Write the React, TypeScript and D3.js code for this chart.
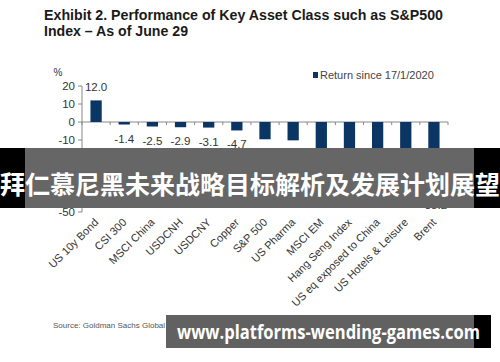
import React, { useRef, useEffect } from 'react';
import * as d3 from 'd3';

const categories = [
  'US 10y Bond', 'CSI 300', 'MSCI China', 'USDCNH', 'USDCNY', 'Copper', 'S&P 500',
  'US Pharma', 'MSCI EM', 'Hang Seng Index', 'US eq exposed to China', 'US Hotels & Leisure', 'Brent'
];
const returns = [12.0, -1.4, -2.5, -2.9, -3.1, -4.7, -9.6, -10.2, -15.9, -16.7, -26.8, -29.6, -38.2];
const yTicks = [20, 10, 0, -10, -20, -30, -40, -50];
const seriesName = 'Return since 17/1/2020';
const titleLines = ['Exhibit 2. Performance of Key Asset Class such as S&P500', 'Index \u2013 As of June 29'];
const sourceText = 'Source: Goldman Sachs Global Investment Research, Investment Strategy';
const bannerText = '拜仁慕尼黑未来战略目标解析及发展计划展望';
const footerText = 'www.platforms-wending-games.com';

const width = 500;
const height = 362;

/**
 * Bar chart of asset class returns, with the overlay banners of the source picture
 */
const App: React.FC = () => {
  const svgRef = useRef<SVGSVGElement>(null);

  useEffect(() => {
    const svg = d3.select(svgRef.current);
    svg.selectAll('*').remove();

    const font = '"Liberation Sans", Arial, sans-serif';
    const barColor = '#0b3562';
    const textColor = '#333';

    // plot area
    const left = 82;
    const right = 448;
    const xScale = d3.scaleBand<string>()
      .domain(categories)
      .range([left, right])
      .paddingInner(0.6)
      .paddingOuter(0.3);

    const yScale = d3.scaleLinear()
      .domain([-50, 20])
      .range([212, 86]);

    svg.append('rect')
      .attr('width', width)
      .attr('height', height)
      .attr('fill', '#fff');

    // title
    svg.append('g')
      .selectAll('text')
      .data(titleLines)
      .enter()
      .append('text')
      .attr('x', 44)
      .attr('y', (d, i) => 19.5 + i * 16.5)
      .attr('textLength', (d, i) => (i === 0 ? 399 : 144))
      .attr('lengthAdjust', 'spacingAndGlyphs')
      .style('font-family', font)
      .style('font-size', '14px')
      .style('font-weight', 'bold')
      .style('fill', '#1a1a1a')
      .text(d => d);

    // y axis
    const yAxis = svg.append('g');
    yAxis.append('line')
      .attr('x1', left).attr('x2', left)
      .attr('y1', yScale(20)).attr('y2', yScale(-50))
      .attr('stroke', '#888');
    yAxis.selectAll('.ytick')
      .data(yTicks)
      .enter()
      .append('line')
      .attr('class', 'ytick')
      .attr('x1', left - 4).attr('x2', left)
      .attr('y1', d => yScale(d)).attr('y2', d => yScale(d))
      .attr('stroke', '#888');
    yAxis.selectAll('.ylabel')
      .data(yTicks)
      .enter()
      .append('text')
      .attr('class', 'ylabel')
      .attr('x', left - 7)
      .attr('y', d => yScale(d))
      .attr('dy', '0.35em')
      .attr('text-anchor', 'end')
      .style('font-family', font)
      .style('font-size', '11.5px')
      .style('fill', textColor)
      .text(d => d);
    svg.append('text')
      .attr('x', 58)
      .attr('y', 76)
      .attr('text-anchor', 'middle')
      .style('font-family', font)
      .style('font-size', '10px')
      .style('fill', textColor)
      .text('%');

    // x axis at zero
    const zeroY = yScale(0);
    svg.append('line')
      .attr('x1', left).attr('x2', right)
      .attr('y1', zeroY).attr('y2', zeroY)
      .attr('stroke', '#888');
    svg.selectAll('.xtick')
      .data(d3.range(categories.length + 1))
      .enter()
      .append('line')
      .attr('class', 'xtick')
      .attr('x1', i => left + i * (right - left) / categories.length)
      .attr('x2', i => left + i * (right - left) / categories.length)
      .attr('y1', zeroY).attr('y2', zeroY + 3)
      .attr('stroke', '#888');

    // bars
    svg.selectAll('.bar')
      .data(returns)
      .enter()
      .append('rect')
      .attr('class', 'bar')
      .attr('x', (d, i) => xScale(categories[i]) as number)
      .attr('width', xScale.bandwidth())
      .attr('y', d => yScale(Math.max(0, d)))
      .attr('height', d => Math.abs(yScale(d) - yScale(0)))
      .attr('fill', barColor);

    // value labels
    svg.selectAll('.value')
      .data(returns)
      .enter()
      .append('text')
      .attr('class', 'value')
      .attr('x', (d, i) => (xScale(categories[i]) as number) + xScale.bandwidth() / 2)
      .attr('y', d => (d >= 0 ? yScale(d) - 13 : yScale(d) + 14))
      .attr('dy', '0.35em')
      .attr('text-anchor', 'middle')
      .style('font-family', font)
      .style('font-size', '11.5px')
      .style('fill', textColor)
      .text(d => d.toFixed(1));

    // category labels
    svg.selectAll('.xlabel')
      .data(categories)
      .enter()
      .append('text')
      .attr('class', 'xlabel')
      .attr('transform', d => `translate(${(xScale(d) as number) + xScale.bandwidth() / 2 + 3},${223}) rotate(-45)`)
      .attr('text-anchor', 'end')
      .style('font-family', font)
      .style('font-size', '11px')
      .style('fill', textColor)
      .text(d => d);

    // legend
    svg.append('rect')
      .attr('x', 313).attr('y', 72)
      .attr('width', 5).attr('height', 6)
      .attr('fill', barColor);
    svg.append('text')
      .attr('x', 320)
      .attr('y', 78.5)
      .style('font-family', font)
      .style('font-size', '11px')
      .style('fill', '#444')
      .text(seriesName);

    // source line
    svg.append('text')
      .attr('x', 53)
      .attr('y', 328)
      .style('font-family', font)
      .style('font-size', '8px')
      .style('fill', '#555')
      .text(sourceText);
    svg.append('text')
      .attr('x', 400)
      .attr('y', 328)
      .style('font-family', font)
      .style('font-size', '9px')
      .style('fill', '#666')
      .text('Goldman Sachs');

    // middle banner
    svg.append('rect')
      .attr('x', 0).attr('y', 148)
      .attr('width', width).attr('height', 60)
      .attr('fill', '#000');
    svg.append('rect')
      .attr('x', 25).attr('y', 148)
      .attr('width', 449).attr('height', 60)
      .attr('fill', '#fff');
    svg.append('rect')
      .attr('x', 25).attr('y', 148)
      .attr('width', 449).attr('height', 60)
      .attr('fill', 'rgba(0,0,0,0.6)');
    svg.append('text')
      .attr('x', 250)
      .attr('y', 194)
      .attr('text-anchor', 'middle')
      .style('font-family', '"Noto Sans CJK SC", sans-serif')
      .style('font-size', '25px')
      .style('font-weight', 'bold')
      .style('fill', '#fff')
      .text(bannerText);

    // footer banner
    svg.append('rect')
      .attr('x', 166).attr('y', 315)
      .attr('width', 325).attr('height', 33)
      .attr('fill', '#000');
    svg.append('rect')
      .attr('x', 166).attr('y', 315)
      .attr('width', 308).attr('height', 33)
      .attr('fill', 'rgba(100,100,100,0.97)');
    svg.append('text')
      .attr('x', 177)
      .attr('y', 339)
      .attr('textLength', 303)
      .attr('lengthAdjust', 'spacingAndGlyphs')
      .style('font-family', '"Open Sans", "Noto Sans", sans-serif')
      .style('font-size', '20px')
      .style('font-weight', 'bold')
      .style('fill', '#fff')
      .text(footerText);
  }, []);

  return (
    <svg
      ref={svgRef}
      width={width}
      height={height}
      style={{ position: 'absolute', left: 0, top: 0 }}
    />
  );
};

export default App;
